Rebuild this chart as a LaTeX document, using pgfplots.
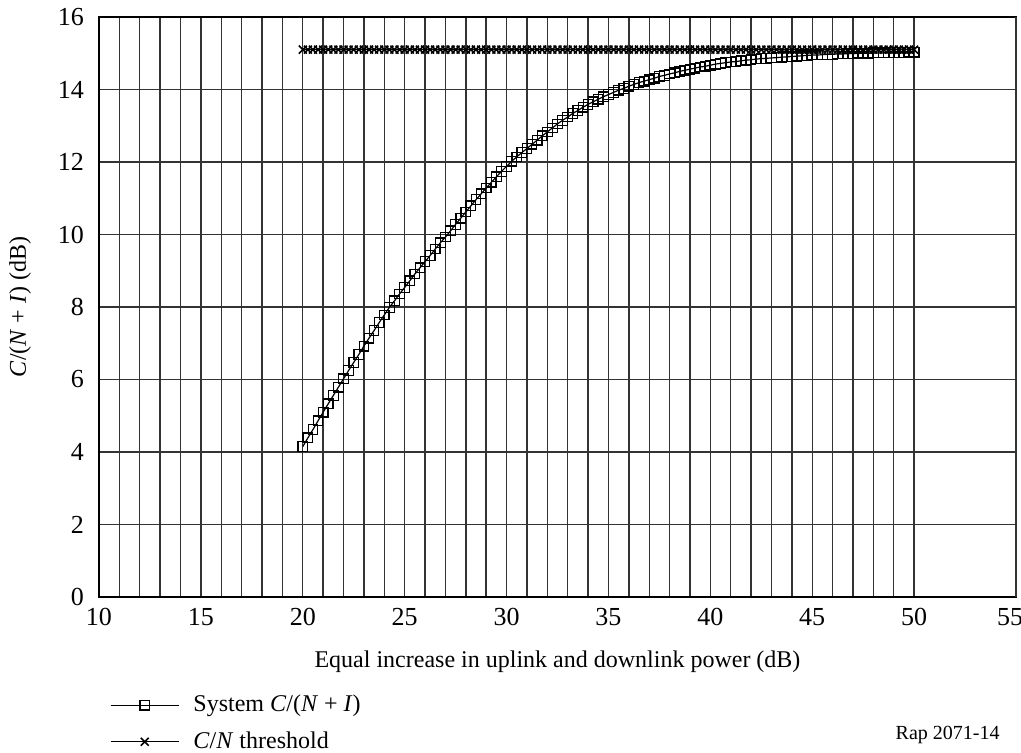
\documentclass[border=0pt]{standalone}
\usepackage{pgfplots}
\pgfplotsset{compat=1.18}
\usepackage{fontspec}
\setmainfont{Liberation Serif}
\begin{document}
\begin{tikzpicture}
\useasboundingbox (-49.5pt,-78pt) rectangle (461pt,298.5pt);
\begin{axis}[
  at={(0,0)}, anchor=south west,
  scale only axis, width=458.5pt, height=290pt,
  xmin=10, xmax=55, ymin=0, ymax=16,
  xtick={10,15,...,50}, minor x tick num=4,
  extra x ticks={55},
  extra x tick style={xticklabel style={xshift=-3pt}},
  ytick distance=2,
  grid=both,
  major grid style={black!80, line width=0.7pt},
  minor grid style={black!80, line width=0.7pt},
  axis line style={black, line width=1pt},
  major tick length=0pt, minor tick length=0pt,
  tick label style={font=\fontsize{13}{15}\selectfont},
  /pgf/number format/assume math mode=true,
  xticklabel style={yshift=-2pt},
  yticklabel style={xshift=-4pt},
  xlabel={Equal increase in uplink and downlink power (dB)},
  ylabel={\textit{C}/(\textit{N} + \textit{I}) (dB)},
  label style={font=\fontsize{12}{14}\selectfont},
  xlabel style={at={(axis description cs:0.5,-0.122)}, anchor=base},
  ylabel style={at={(axis description cs:-0.086,0.5)}, anchor=center},
  legend style={at={(axis description cs:0.005,-0.155)}, anchor=north west, draw=none, fill=none,
    font=\fontsize{12}{14}\selectfont, row sep=4.5pt, column sep=5pt, cells={anchor=west}},
  legend cell align=left,
  legend image code/.code={\draw[mark repeat=2,mark phase=2,#1] plot coordinates {(0cm,0cm) (0.6cm,0cm) (1.2cm,0cm)};},
]
\addplot[black, line width=0.6pt, mark=square, mark size=2.4pt, mark options={solid, line width=0.6pt}] coordinates {
(20,4.15)(20.25,4.39)(20.5,4.62)(20.75,4.86)(21,5.10)(21.25,5.33)(21.5,5.56)(21.75,5.79)
(22,6.02)(22.25,6.25)(22.5,6.47)(22.75,6.69)(23,6.92)(23.25,7.14)(23.5,7.35)(23.75,7.57)
(24,7.78)(24.25,7.99)(24.5,8.17)(24.75,8.36)(25,8.54)(25.25,8.72)(25.5,8.91)(25.75,9.08)
(26,9.25)(26.25,9.42)(26.5,9.60)(26.75,9.77)(27,9.93)(27.25,10.10)(27.5,10.28)(27.75,10.45)
(28,10.62)(28.25,10.79)(28.5,10.96)(28.75,11.12)(29,11.28)(29.25,11.44)(29.5,11.59)(29.75,11.74)
(30,11.88)(30.25,12.02)(30.5,12.14)(30.75,12.26)(31,12.37)(31.25,12.49)(31.5,12.60)(31.75,12.72)
(32,12.83)(32.25,12.94)(32.5,13.05)(32.75,13.15)(33,13.24)(33.25,13.34)(33.5,13.42)(33.75,13.51)
(34,13.59)(34.25,13.66)(34.5,13.73)(34.75,13.80)(35,13.86)(35.25,13.92)(35.5,13.98)(35.75,14.03)
(36,14.09)(36.25,14.14)(36.5,14.19)(36.75,14.23)(37,14.27)(37.25,14.31)(37.5,14.36)(37.75,14.39)
(38,14.43)(38.25,14.46)(38.5,14.50)(38.75,14.53)(39,14.56)(39.25,14.59)(39.5,14.62)(39.75,14.64)
(40,14.67)(40.25,14.70)(40.5,14.72)(40.75,14.74)(41,14.76)(41.25,14.77)(41.5,14.79)(41.75,14.81)
(42,14.82)(42.25,14.84)(42.5,14.85)(42.75,14.86)(43,14.87)(43.25,14.88)(43.5,14.89)(43.75,14.90)
(44,14.91)(44.25,14.92)(44.5,14.93)(44.75,14.94)(45,14.95)(45.25,14.95)(45.5,14.96)(45.75,14.97)
(46,14.97)(46.25,14.98)(46.5,14.98)(46.75,14.99)(47,14.99)(47.25,15.00)(47.5,15.00)(47.75,15.00)
(48,15.01)(48.25,15.01)(48.5,15.01)(48.75,15.02)(49,15.02)(49.25,15.02)(49.5,15.02)(49.75,15.03)
(50,15.03)
};
\addlegendentry{System \textit{C}/(\textit{N} + \textit{I})}
\addplot[black, line width=0.6pt, mark=x, mark size=2.8pt, mark options={solid, line width=0.8pt}] coordinates {
(20,15.1)(20.25,15.1)(20.5,15.1)(20.75,15.1)(21,15.1)(21.25,15.1)(21.5,15.1)(21.75,15.1)
(22,15.1)(22.25,15.1)(22.5,15.1)(22.75,15.1)(23,15.1)(23.25,15.1)(23.5,15.1)(23.75,15.1)
(24,15.1)(24.25,15.1)(24.5,15.1)(24.75,15.1)(25,15.1)(25.25,15.1)(25.5,15.1)(25.75,15.1)
(26,15.1)(26.25,15.1)(26.5,15.1)(26.75,15.1)(27,15.1)(27.25,15.1)(27.5,15.1)(27.75,15.1)
(28,15.1)(28.25,15.1)(28.5,15.1)(28.75,15.1)(29,15.1)(29.25,15.1)(29.5,15.1)(29.75,15.1)
(30,15.1)(30.25,15.1)(30.5,15.1)(30.75,15.1)(31,15.1)(31.25,15.1)(31.5,15.1)(31.75,15.1)
(32,15.1)(32.25,15.1)(32.5,15.1)(32.75,15.1)(33,15.1)(33.25,15.1)(33.5,15.1)(33.75,15.1)
(34,15.1)(34.25,15.1)(34.5,15.1)(34.75,15.1)(35,15.1)(35.25,15.1)(35.5,15.1)(35.75,15.1)
(36,15.1)(36.25,15.1)(36.5,15.1)(36.75,15.1)(37,15.1)(37.25,15.1)(37.5,15.1)(37.75,15.1)
(38,15.1)(38.25,15.1)(38.5,15.1)(38.75,15.1)(39,15.1)(39.25,15.1)(39.5,15.1)(39.75,15.1)
(40,15.1)(40.25,15.1)(40.5,15.1)(40.75,15.1)(41,15.1)(41.25,15.1)(41.5,15.1)(41.75,15.1)
(42,15.1)(42.25,15.1)(42.5,15.1)(42.75,15.1)(43,15.1)(43.25,15.1)(43.5,15.1)(43.75,15.1)
(44,15.1)(44.25,15.1)(44.5,15.1)(44.75,15.1)(45,15.1)(45.25,15.1)(45.5,15.1)(45.75,15.1)
(46,15.1)(46.25,15.1)(46.5,15.1)(46.75,15.1)(47,15.1)(47.25,15.1)(47.5,15.1)(47.75,15.1)
(48,15.1)(48.25,15.1)(48.5,15.1)(48.75,15.1)(49,15.1)(49.25,15.1)(49.5,15.1)(49.75,15.1)
(50,15.1)
};
\addlegendentry{\textit{C}/\textit{N} threshold}
\end{axis}
\node[anchor=base east, inner sep=0pt, font=\fontsize{10}{12}\selectfont] at (450.5pt,-71pt) {Rap 2071-14};
\end{tikzpicture}
\end{document}
